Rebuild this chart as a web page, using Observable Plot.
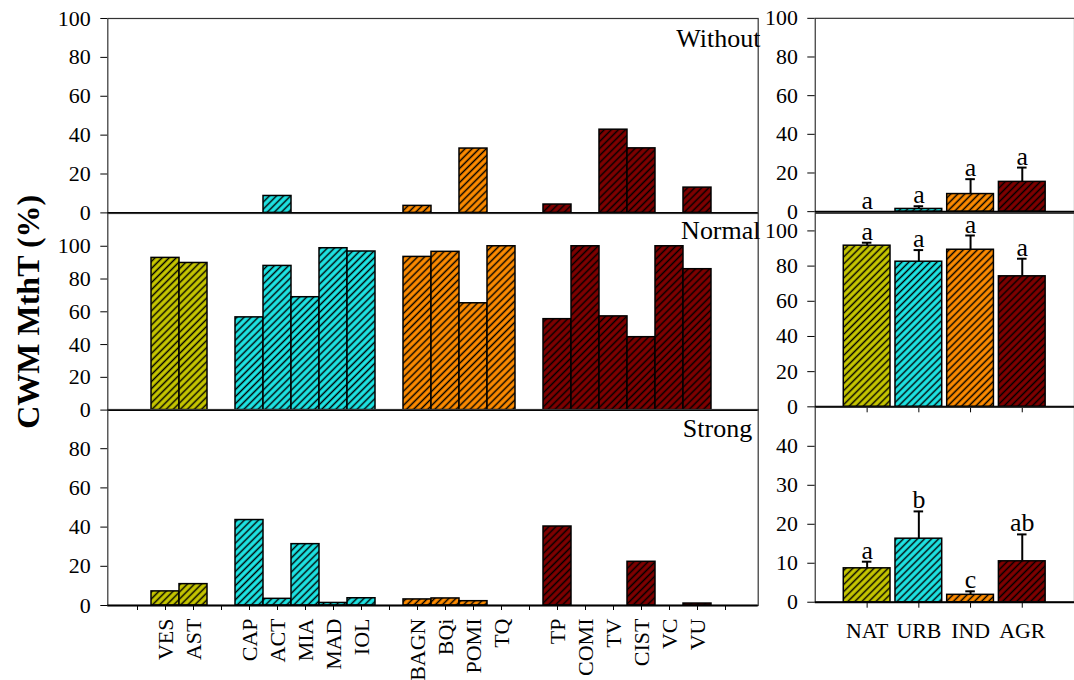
<!DOCTYPE html>
<html><head><meta charset="utf-8">
<script src="https://cdn.jsdelivr.net/npm/d3@7"></script>
<script src="https://cdn.jsdelivr.net/npm/@observablehq/plot@0.6"></script>
<style>
html,body{margin:0;padding:0;background:#fff;overflow:hidden}
#chart{position:relative;width:1074px;height:680px;overflow:hidden;background:#fff}
#chart svg, #chart svg g, #chart svg text{font-family:'Liberation Serif','Times New Roman',serif !important}
</style></head><body>
<div id="chart"></div>
<script>
// ---- data ----
const taxa = ["VES","AST","CAP","ACT","MIA","MAD","IOL","BAGN","BQi","POMI","TQ","TP","COMI","TV","CIST","VC","VU"];
const taxonGroup = ["NAT","NAT","URB","URB","URB","URB","URB","IND","IND","IND","IND","AGR","AGR","AGR","AGR","AGR","AGR"];
const withoutPct = [0,0,0,8.7,0,0,0,3.6,0,33.1,0,4.3,0,42.8,33.2,0,13.0];
const normalPct  = [92.9,89.8,56.6,88.0,68.9,98.8,96.8,93.5,96.6,65.2,100,55.5,100,57.2,44.5,100,86.0];
const strongPct  = [7.2,10.9,43.6,3.4,31.3,1.3,3.7,3.1,3.6,2.2,0,40.3,0,0,22.3,0,1.0];
// x slots of the left panel (underscore = empty gap slot)
const leftSlots = ["_a","VES","AST","_b","CAP","ACT","MIA","MAD","IOL","_c","BAGN","BQi","POMI","TQ","_d","TP","COMI","TV","CIST","VC","VU","_e"];

const landUse = ["NAT","URB","IND","AGR"];
const groupColors = ["#c8c800","#1ee6e6","#ff8c00","#800000"];
const meanWithout = [0,1.4,9.1,15.4];
const seWithout   = [0,1.4,7.7,7.4];
const letWithout  = ["a","a","a","a"];
const meanNormal  = [91.6,82.5,89.3,74.2];
const seNormal    = [1.7,6.6,8.1,10.0];
const letNormal   = ["a","a","a","a"];
const meanStrong  = [8.7,16.3,1.9,10.5];
const seStrong    = [1.7,7.0,0.9,6.9];
const letStrong   = ["a","b","c","ab"];

const panelNames = ["Without","Normal","Strong"];
const yTitle = "CWM MthT (%)";

// ---- hatch patterns ----
const defs = d3.select("body").append("svg").attr("width",0).attr("height",0)
  .style("position","absolute").style("left","0").style("top","0").append("defs");
groupColors.forEach((c,i)=>{
  const p = defs.append("pattern").attr("id",`hatch${i}`).attr("patternUnits","userSpaceOnUse")
    .attr("width",5).attr("height",5).attr("patternTransform","rotate(45)");
  p.append("rect").attr("width",5).attr("height",5).attr("fill",c);
  p.append("line").attr("x1",2.5).attr("x2",2.5).attr("y1",-1).attr("y2",6)
    .attr("stroke","black").attr("stroke-width",1.5);
});

const chart = document.getElementById("chart");
const baseStyle = {background:"transparent", fontFamily:"'Liberation Serif','Times New Roman',serif",
  fontSize:"22px", color:"black", overflow:"visible"};
const PAD = 30;
function place(svg, top){
  svg.style.position = "absolute"; svg.style.left = "0px"; svg.style.top = top + "px";
  chart.appendChild(svg);
}

function leftPanel(values, frameTop, frameBottom, yMax, yTicks, label, ldx, ldy, showX, extra = []) {
  const rows = taxa.map((t,i)=>({taxon:t, group:taxonGroup[i], v:values[i]})).filter(d=>d.v>0);
  const svg = Plot.plot({
    width: 770, height: (frameBottom-frameTop) + 2*PAD,
    marginTop: PAD, marginBottom: PAD, marginLeft: 107.3, marginRight: 12.3,
    x: {type:"band", domain:leftSlots, range:[118.5,743.3], paddingInner:0, paddingOuter:0,
        axis: showX ? "bottom" : null, tickRotate:-90, tickSize:5, tickPadding:8,
        tickFormat: d => d.startsWith("_") ? "" : d, label:null},
    y: {domain:[0,yMax], ticks:yTicks, tickSize:7, tickPadding:10, label:null},
    style: baseStyle,
    marks: [
      ...landUse.map((g,gi)=>Plot.barY(rows.filter(d=>d.group===g),
        {x:"taxon", y:"v", fill:`url(#hatch${gi})`, stroke:"black", strokeWidth:1.5})),
      Plot.frame({stroke:"#333", strokeWidth:1.2}),
      Plot.ruleY([0], {stroke:"black", strokeWidth:2}),
      Plot.text([label], {frameAnchor:"top-right", textAnchor:"end", lineAnchor:"bottom",
        dx:ldx, dy:ldy, fontSize:26}),
      ...extra
    ]
  });
  place(svg, frameTop - PAD);
}

function rightPanel(means, ses, letters, frameTop, frameBottom, yMax, yTicks, xMode) {
  const rows = landUse.map((g,i)=>({g, m:means[i], se:ses[i], top:means[i]+ses[i], letter:letters[i]}));
  const svg = Plot.plot({
    width: 1080, height: (frameBottom-frameTop) + 2*PAD,
    marginTop: PAD, marginBottom: PAD, marginLeft: 819.3, marginRight: 0,
    x: {type:"band", domain:landUse, range:[844.9,1053.5], paddingInner:0.09, paddingOuter:0.045,
        axis: xMode ? "bottom" : null, tickSize:6, tickPadding:14,
        tickFormat: xMode === "labels" ? (d=>d) : (()=>""), label:null},
    y: {domain:[0,yMax], ticks:yTicks, tickSize:7.5, tickPadding:10, label:null},
    style: baseStyle,
    marks: [
      ...landUse.map((g,gi)=>Plot.barY(rows.filter(d=>d.g===g && d.m>0),
        {x:"g", y:"m", fill:`url(#hatch${gi})`, stroke:"black", strokeWidth:1.5})),
      Plot.ruleX(rows.filter(d=>d.se>0), {x:"g", y1:"m", y2:"top", stroke:"black", strokeWidth:2}),
      Plot.tickY(rows.filter(d=>d.se>0), {x:"g", y:"top", stroke:"black", strokeWidth:2, insetLeft:18.7, insetRight:18.7}),
      Plot.text(rows, {x:"g", y:"top", text:"letter", lineAnchor:"bottom", dy:-3, fontSize:26}),
      Plot.frame({stroke:"#333", strokeWidth:1.2}),
      Plot.ruleY([0], {stroke:"black", strokeWidth:2})
    ]
  });
  place(svg, frameTop - PAD);
}

leftPanel(withoutPct, 18.3, 212.7, 100, [0,20,40,60,80,100], panelNames[0], 2.3, 28.4, false);
leftPanel(normalPct, 212.7, 409.3, 120, [0,20,40,60,80,100], panelNames[1], 2.3, 25.6, false,
  [Plot.text([yTitle], {frameAnchor:"left", textAnchor:"middle", rotate:-90, dx:-79, fontSize:32, fontWeight:"bold"})]);
leftPanel(strongPct, 409.3, 605.3, 100, [0,20,40,60,80], panelNames[2], -6, 27.4, true);

rightPanel(meanWithout, seWithout, letWithout, 18.3, 212.7, 100, [0,20,40,60,80,100], null);
rightPanel(meanNormal, seNormal, letNormal, 212.7, 407.3, 110, [0,20,40,60,80,100], "ticks");
rightPanel(meanStrong, seStrong, letStrong, 407.3, 603.3, 50, [0,10,20,30,40], "labels");
</script>
</body></html>
